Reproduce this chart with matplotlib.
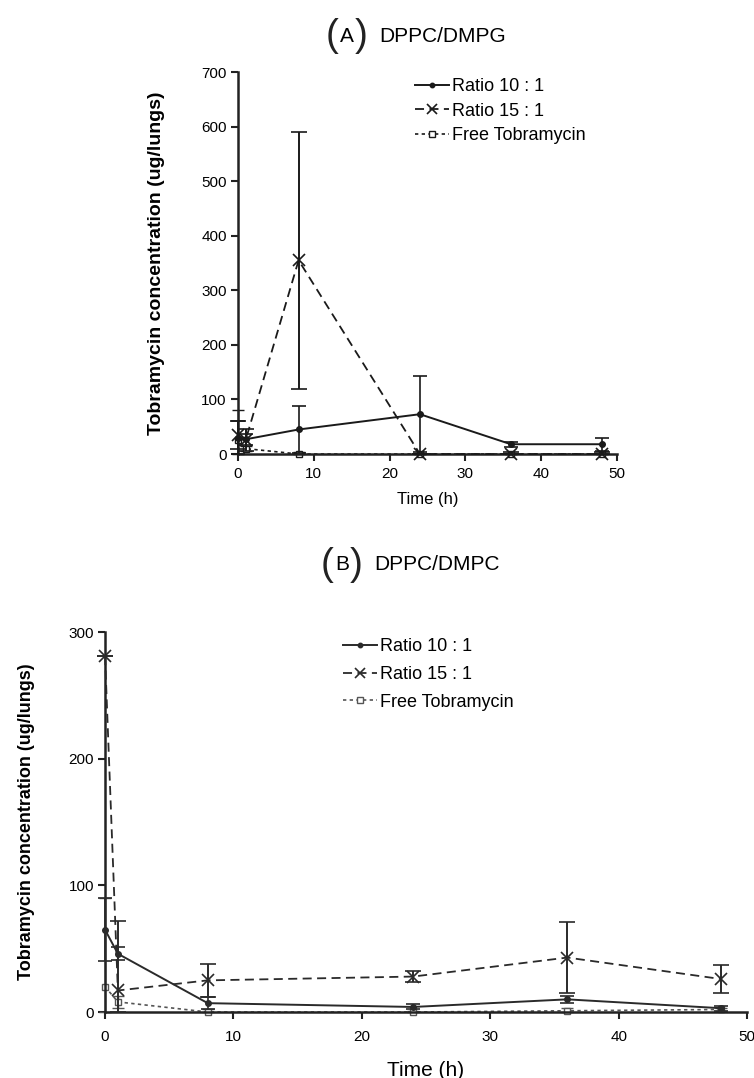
import numpy as np
import matplotlib
matplotlib.use('Agg')
import matplotlib.pyplot as plt

plt.rcParams['font.family'] = ['Liberation Sans', 'DejaVu Sans']

# sampling times (h)
time_h = [0, 1, 8, 24, 36, 48]
labels = ['Ratio 10 : 1', 'Ratio 15 : 1', 'Free Tobramycin']

# (A) DPPC/DMPG, ug/lungs, mean and SD
r10_a = [30, 27, 45, 73, 18, 18]
r10_a_err = [30, 10, 43, 70, 5, 12]
r15_a = [35, 25, 355, 0, 0, 0]
r15_a_err = [25, 20, 235, 0, 3, 3]
free_a = [25, 10, 0, 0, 0, 0]
free_a_err = [55, 5, 3, 0, 0, 0]

# (B) DPPC/DMPC
r10_b = [65, 46, 7, 4, 10, 3]
r10_b_err = [25, 5, 5, 2, 3, 2]
r15_b = [281, 17, 25, 28, 43, 26]
r15_b_err = [0, 55, 13, 4, 28, 11]
free_b = [20, 8, 0, 0, 1, 2]
free_b_err = [70, 5, 2, 1, 2, 1]


def bars(y, e):
    # SD bars do not go below zero
    y = np.asarray(y, float)
    e = np.asarray(e, float)
    return [np.minimum(e, y), e]


def draw_panel(ax, r10, e10, r15, e15, fr, efr, ymax, ystep, ink, ink2, pad):
    s1 = ax.errorbar(time_h, r10, yerr=bars(r10, e10), color=ink, ls='-', lw=1.4, marker='o', ms=4,
                     capsize=5, elinewidth=1.2, capthick=1.2, zorder=3)
    s2 = ax.errorbar(time_h, r15, yerr=bars(r15, e15), color=ink, ls=(0, (5, 3)), lw=1.3, marker='x',
                     ms=9, mew=1.2, capsize=6, elinewidth=1.4, capthick=1.6, zorder=3)
    s3 = ax.errorbar(time_h, fr, yerr=bars(fr, efr), color=ink2, ls=(0, (2, 2)), lw=1.2, marker='s',
                     ms=5, mfc='white', capsize=4, elinewidth=1.0, capthick=1.0, zorder=2)
    for s in (s1, s2, s3):
        s.lines[0].set_clip_on(False)
        for part in s.lines[1] + s.lines[2]:
            part.set_clip_on(False)
    ax.set_xlim(0, 50)
    ax.set_ylim(0, ymax)
    ax.set_xticks(np.arange(0, 51, 10))
    ax.set_yticks(np.arange(0, ymax + 1, ystep))
    for side in ('top', 'right'):
        ax.spines[side].set_visible(False)
    for side in ('left', 'bottom'):
        ax.spines[side].set_linewidth(1.8)
        ax.spines[side].set_color('#222222')
    ax.tick_params(direction='out', length=5, width=1.5, labelsize=11, color='#222222', pad=3)
    ax.tick_params(axis='x', pad=pad)
    return [s1[0], s2[0], s3[0]]


fig = plt.figure(figsize=(7.54, 10.78), dpi=100)

# panel A
ax_a = fig.add_axes([0.3156, 0.5788, 0.5027, 0.3544])
h = draw_panel(ax_a, r10_a, r10_a_err, r15_a, r15_a_err, free_a, free_a_err, 700, 100,
               '#1a1a1a', '#1a1a1a', 4)
ax_a.set_xlabel('Time (h)', fontsize=12, labelpad=8)
ax_a.set_ylabel('Tobramycin concentration (ug/lungs)', fontsize=14, fontweight='semibold', labelpad=26)
fig.legend(h, labels, loc='upper left', bbox_to_anchor=(415 / 754, 1 - 78 / 1078), frameon=False,
           fontsize=13, handlelength=1.9, handletextpad=0.15, labelspacing=0.42, borderaxespad=0,
           borderpad=0, markerscale=0.8)

# panel B
ax_b = fig.add_axes([0.1393, 0.0612, 0.8515, 0.3525])
h = draw_panel(ax_b, r10_b, r10_b_err, r15_b, r15_b_err, free_b, free_b_err, 300, 100,
               '#2a2a2a', '#555555', 8)
ax_b.set_xlabel('Time (h)', fontsize=15, labelpad=12)
ax_b.set_ylabel('Tobramycin concentration (ug/lungs)', fontsize=13, fontweight='semibold', labelpad=24)
fig.legend(h, labels, loc='upper left', bbox_to_anchor=(343 / 754, 1 - 638 / 1078), frameon=False,
           fontsize=13, handlelength=1.9, handletextpad=0.15, labelspacing=0.6, borderaxespad=0,
           borderpad=0, markerscale=0.8)

# panel headings with tall brackets
for (px, py, letter, name) in [(332, 36, 'A', 'DPPC/DMPG'), (327, 565, 'B', 'DPPC/DMPC')]:
    fy = 1 - py / 1078
    fig.text(px / 754, fy, '(', fontsize=28, ha='center', va='center', color='#222222')
    fig.text((px + 15) / 754, fy, letter, fontsize=15, ha='center', va='center')
    fig.text((px + 29) / 754, fy, ')', fontsize=28, ha='center', va='center', color='#222222')
    fig.text((px + 47) / 754, fy, name, fontsize=15, ha='left', va='center')

fig.savefig('out.png', dpi=100)
